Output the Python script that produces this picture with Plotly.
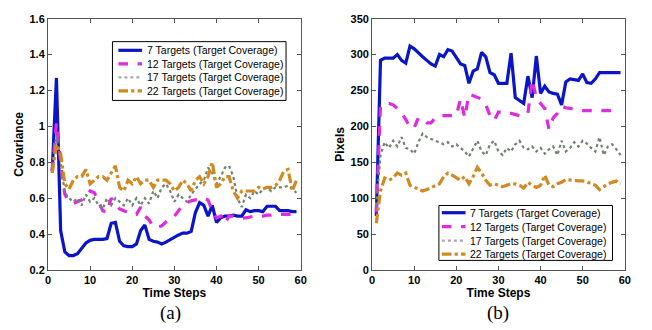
import plotly.graph_objects as go

t = list(range(1, 60))

# Panel (a): Covariance
cov_7 = [0.75, 1.27, 0.42, 0.30, 0.28, 0.28, 0.29, 0.32, 0.35, 0.365, 0.37, 0.37, 0.37, 0.375, 0.46,
         0.465, 0.36, 0.335, 0.33, 0.33, 0.345, 0.42, 0.45, 0.37, 0.36, 0.355, 0.345, 0.355, 0.37, 0.38,
         0.395, 0.405, 0.405, 0.415, 0.52, 0.575, 0.56, 0.50, 0.56, 0.465, 0.49, 0.50, 0.50, 0.505, 0.50,
         0.50, 0.535, 0.525, 0.53, 0.53, 0.525, 0.555, 0.555, 0.555, 0.53, 0.53, 0.53, 0.525, 0.525]
cov_12 = [0.75, 1.02, 0.80, 0.62, 0.58, 0.57, 0.58, 0.59, 0.61, 0.64, 0.63, 0.58, 0.53, 0.52, 0.60,
          0.57, 0.54, 0.53, 0.52, 0.51, 0.51, 0.55, 0.50, 0.48, 0.44, 0.44, 0.445, 0.47, 0.49, 0.50,
          0.53, 0.56, 0.575, 0.585, 0.59, 0.59, 0.60, 0.59, 0.53, 0.49, 0.50, 0.46, 0.50, 0.50, 0.49,
          0.49, 0.49, 0.495, 0.50, 0.50, 0.50, 0.505, 0.505, 0.51, 0.51, 0.51, 0.51, 0.51, 0.51]
cov_17 = [0.78, 0.95, 0.80, 0.63, 0.60, 0.58, 0.60, 0.56, 0.62, 0.58, 0.60, 0.56, 0.54, 0.60, 0.56,
          0.60, 0.58, 0.56, 0.60, 0.56, 0.60, 0.56, 0.60, 0.57, 0.64, 0.60, 0.66, 0.68, 0.64, 0.58,
          0.62, 0.60, 0.58, 0.62, 0.65, 0.68, 0.70, 0.77, 0.74, 0.68, 0.72, 0.77, 0.78, 0.72, 0.60,
          0.55, 0.62, 0.60, 0.64, 0.62, 0.65, 0.66, 0.64, 0.66, 0.66, 0.66, 0.67, 0.65, 0.63]
cov_22 = [0.74, 0.90, 0.85, 0.68, 0.65, 0.70, 0.72, 0.72, 0.76, 0.68, 0.70, 0.72, 0.72, 0.70, 0.74,
          0.78, 0.66, 0.64, 0.70, 0.68, 0.72, 0.68, 0.70, 0.70, 0.66, 0.70, 0.70, 0.70, 0.68, 0.64,
          0.66, 0.70, 0.68, 0.64, 0.70, 0.72, 0.68, 0.72, 0.80, 0.66, 0.68, 0.72, 0.72, 0.64, 0.60,
          0.64, 0.64, 0.64, 0.64, 0.66, 0.65, 0.66, 0.66, 0.67, 0.70, 0.75, 0.76, 0.64, 0.70]

# Panel (b): Pixels
pix_7 = [75, 292, 295, 295, 295, 300, 292, 288, 312, 308, 302, 297, 292, 287, 284, 300, 297, 307, 305,
         295, 287, 285, 260, 277, 280, 303, 297, 275, 272, 260, 260, 260, 302, 240, 236, 232, 270, 240,
         298, 246, 256, 248, 246, 245, 230, 262, 266, 265, 264, 273, 261, 260, 266, 275, 275, 275, 275,
         275, 275]
pix_12 = [80, 228, 230, 232, 230, 225, 218, 210, 198, 198, 212, 210, 205, 205, 212, 215, 215, 215, 215,
          215, 238, 212, 245, 243, 240, 238, 230, 215, 208, 220, 220, 218, 218, 216, 215, 215, 218, 265,
          240, 232, 225, 196, 212, 218, 228, 226, 225, 224, 222, 222, 222, 222, 222, 222, 222, 222, 222,
          222, 222]
pix_17 = [90, 160, 178, 170, 180, 172, 185, 170, 168, 162, 178, 190, 185, 182, 180, 178, 175, 178, 172,
          175, 170, 165, 158, 170, 180, 165, 160, 175, 180, 165, 160, 170, 165, 175, 180, 170, 168, 172,
          165, 170, 162, 168, 172, 160, 180, 165, 170, 178, 172, 180, 176, 170, 165, 185, 160, 172, 175,
          168, 160]
pix_22 = [65, 110, 128, 125, 128, 135, 132, 135, 118, 115, 112, 110, 112, 115, 118, 120, 130, 135, 132,
          128, 125, 130, 120, 130, 143, 135, 125, 118, 120, 118, 116, 118, 120, 120, 118, 114, 122, 118,
          115, 118, 132, 118, 116, 120, 122, 126, 125, 124, 124, 124, 123, 120, 118, 112, 116, 120, 122,
          124, 120]

names = ["7 Targets (Target Coverage)", "12 Targets (Target Coverage)",
         "17 Targets (Target Coverage)", "22 Targets (Target Coverage)"]
colors = ["#0a14c8", "#e02ae0", "#6f836f", "#d18a22"]
legend_colors = ["#0a14c8", "#e02ae0", "#a8a8a8", "#d18a22"]
dashes = ["solid", "dash", "dot", "dashdot"]
widths = [3.2, 3.2, 2.2, 3.2]

cov_ticks = [0.2, 0.4, 0.6, 0.8, 1.0, 1.2, 1.4, 1.6]
cov_ticktext = ["0.2", "0.4", "0.6", "0.8", "1", "1.2", "1.4", "1.6"]
pix_ticks = [0, 50, 100, 150, 200, 250, 300, 350]
x_ticks = [0, 10, 20, 30, 40, 50, 60]

W, H = 652, 330
def px(x):
    return x / W
def py(y):
    return 1 - y / H

fig = go.Figure()
for ys, n, c, d, w in zip([cov_7, cov_12, cov_17, cov_22], names, colors, dashes, widths):
    fig.add_trace(go.Scatter(x=t, y=ys, name=n, mode="lines",
                             line=dict(color=c, dash=d, width=w),
                             xaxis="x", yaxis="y", showlegend=False))
for ys, n, c, d, w in zip([pix_7, pix_12, pix_17, pix_22], names, colors, dashes, widths):
    fig.add_trace(go.Scatter(x=t, y=ys, name=n, mode="lines",
                             line=dict(color=c, dash=d, width=w),
                             xaxis="x2", yaxis="y2", showlegend=False))

tickfont = dict(family="Liberation Sans", size=11, color="black", weight="bold")
titlefont = dict(family="Liberation Sans", size=12, color="black", weight="bold")
axcommon = dict(showgrid=False, zeroline=False, showline=True, mirror="ticks",
                linecolor="#555555", linewidth=1, ticks="inside", ticklen=4,
                tickcolor="#555555", tickfont=tickfont)

# Manual legend boxes (pixel layout: box, row y-centres, sample x-range, text x)
legends = [
    dict(box=(111, 37, 287, 98), rows=[46, 60, 74, 88], sample=(117, 141), text_x=144),
    dict(box=(442, 207, 618, 264), rows=[214.5, 229, 243.5, 257.5], sample=(445, 469), text_x=472),
]
shapes = []
annotations = []
for lg in legends:
    x0, y0, x1, y1 = lg["box"]
    shapes.append(dict(type="rect", xref="paper", yref="paper", x0=px(x0), x1=px(x1),
                       y0=py(y1), y1=py(y0), line=dict(color="black", width=1),
                       fillcolor="white", layer="above"))
    for ry, n, c, d, w in zip(lg["rows"], names, legend_colors, dashes, widths):
        shapes.append(dict(type="line", xref="paper", yref="paper",
                           x0=px(lg["sample"][0]), x1=px(lg["sample"][1]),
                           y0=py(ry), y1=py(ry), line=dict(color=c, dash=d, width=w),
                           layer="above"))
        annotations.append(dict(text=n, x=px(lg["text_x"]), y=py(ry), xref="paper", yref="paper",
                                xanchor="left", yanchor="middle", showarrow=False,
                                font=dict(family="Liberation Sans", size=10.5, color="black")))

annotations += [
    dict(text="(a)", x=px(170), y=py(319), xref="paper", yref="paper", xanchor="center",
         yanchor="middle", showarrow=False,
         font=dict(family="Liberation Serif", size=19, color="black")),
    dict(text="(b)", x=px(502), y=py(319), xref="paper", yref="paper", xanchor="center",
         yanchor="middle", showarrow=False,
         font=dict(family="Liberation Serif", size=19, color="black")),
]

fig.update_layout(
    width=W, height=H, margin=dict(l=0, r=0, t=0, b=0),
    paper_bgcolor="white", plot_bgcolor="white", showlegend=False,
    xaxis=dict(domain=[0.070, 0.463], range=[0, 60], tickvals=x_ticks,
               title=dict(text="Time Steps", font=titlefont, standoff=0), anchor="y", **axcommon),
    yaxis=dict(domain=[0.170, 0.960], range=[0.2, 1.6], tickvals=cov_ticks, ticktext=cov_ticktext,
               title=dict(text="Covariance", font=titlefont, standoff=3), anchor="x", **axcommon),
    xaxis2=dict(domain=[0.574, 0.967], range=[0, 60], tickvals=x_ticks,
                title=dict(text="Time Steps", font=titlefont, standoff=0), anchor="y2", **axcommon),
    yaxis2=dict(domain=[0.170, 0.960], range=[0, 350], tickvals=pix_ticks,
                title=dict(text="Pixels", font=titlefont, standoff=3), anchor="x2", **axcommon),
    shapes=shapes,
    annotations=annotations,
)

fig.write_html("out.html")
